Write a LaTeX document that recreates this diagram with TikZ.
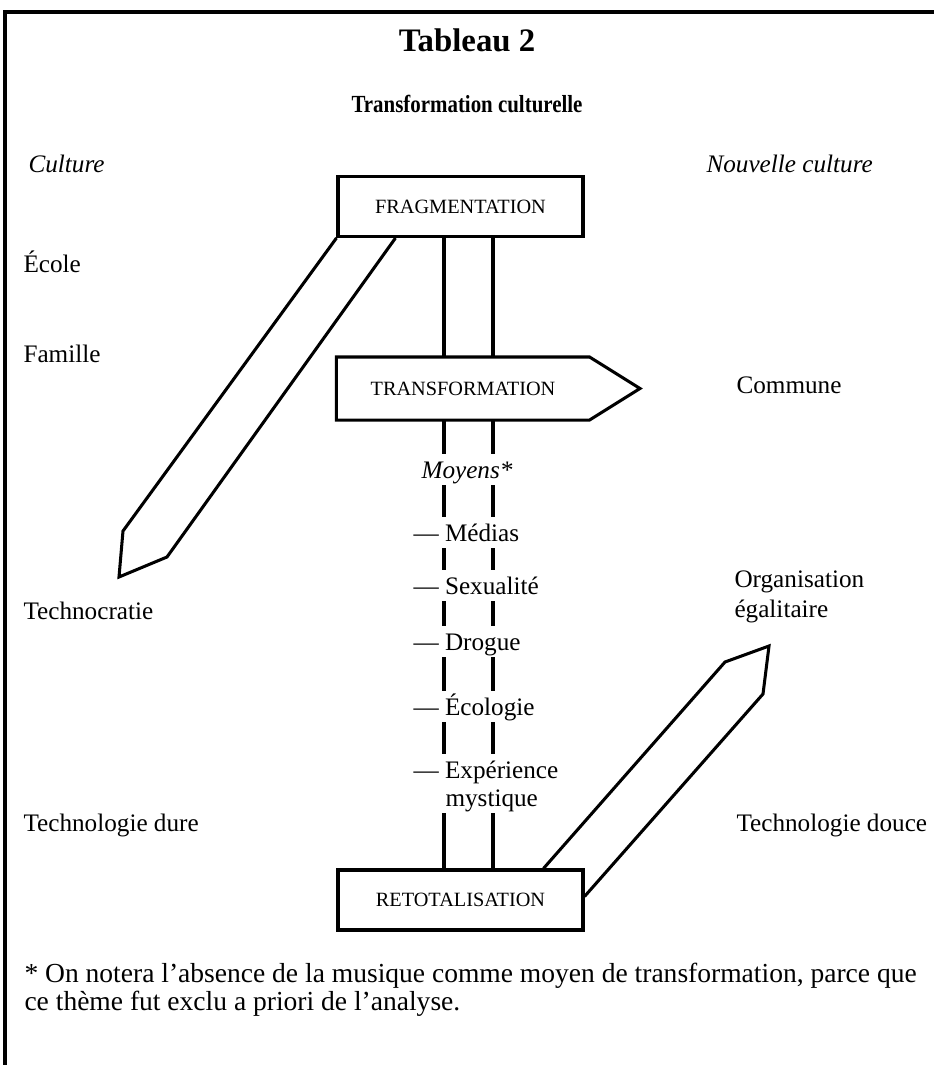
\documentclass[tikz,border=0pt]{standalone}
\usepackage{fontspec}
\setmainfont{Liberation Serif}
\usetikzlibrary{calc}

\begin{document}
\begin{tikzpicture}[x=0.03cm, y=-0.03cm, line width=2.6pt,
  box/.style = {draw, minimum width=7.35cm, minimum height=1.8cm, inner sep=0pt, font=\fontsize{17.3}{20}\selectfont},
  lab/.style = {anchor=base west, inner sep=0pt, font=\fontsize{21.5}{25}\selectfont},
  item/.style = {anchor=base west, inner xsep=0pt, inner ysep=5pt, text height=14.5pt, text depth=0pt, font=\fontsize{21.5}{25}\selectfont}]
  \useasboundingbox (0,0) rectangle (934,1065);
  \draw[line width=3.4pt] (5,1065) -- (5,12) -- (934,12);

  \node[anchor=base, font=\bfseries\fontsize{28}{32}\selectfont] at (467,52) (tab) {Tableau 2};
  \node[anchor=base, font=\bfseries\fontsize{21}{24}\selectfont] at (467,112) (titre) {\scalebox{0.85}[1]{Transformation culturelle}};

  \node[lab, font=\itshape\fontsize{21.5}{25}\selectfont] at (27,172) (cult) {Culture};
  \node[lab, font=\itshape\fontsize{21.5}{25}\selectfont] at (705,172) (nouv) {Nouvelle culture};
  \node[lab] at (22,272) (ecole) {École};
  \node[lab] at (22,362) (fam) {Famille};
  \node[lab] at (22,619) (techno) {Technocratie};
  \node[lab] at (22,831) (dure) {Technologie dure};
  \node[lab] at (735,393) (comm) {Commune};
  \node[lab] at (733,587) (org) {Organisation};
  \node[lab] at (733,617) (ega) {égalitaire};
  \node[lab] at (735,831) (douce) {Technologie douce};

  \node[box] at (460.5,206.5) (1) {FRAGMENTATION};
  \node[box, draw=none, minimum width=7.5cm] at (463,388.5) (2) {TRANSFORMATION};
  \coordinate (pointe) at (640,388.5);
  \draw (2.north east) -- (2.north west) -- (2.south west) -- (2.south east) -- (pointe) -- cycle;
  \node[box] at (460.5,900) (3) {RETOTALISATION};

  \node[item, anchor=base, font=\itshape\fontsize{21.5}{25}\selectfont] at (467,478) (moy) {Moyens*};
  \node[item] at (412,541) (med) {— Médias};
  \node[item] at (412,594) (sex) {— Sexualité};
  \node[item] at (412,650) (dro) {— Drogue};
  \node[item] at (412,715) (eco) {— Écologie};
  \node[item] at (412,778) (exp) {— Expérience};
  \node[item] at (444,806) (mys) {mystique};

  \coordinate (vl) at (444,0);
  \coordinate (vr) at (493,0);
  \foreach \a/\b in {1/2, 2/moy, moy/med, med/sex, sex/dro, dro/eco, eco/exp, mys/3}
    \draw (vl |- \a.south) -- (vl |- \b.north) (vr |- \a.south) -- (vr |- \b.north);

  \coordinate (gauche) at (119,577);
  \draw (1.south west) -- (123,531) -- (gauche) -- (167,557) -- ($(1.south west)+(59,0)$);
  \coordinate (droite) at (769,646);
  \draw ($(3.north west)+(207,0)$) -- (725,662) -- (droite) -- (763,694) -- ($(3.north east)+(0,28)$);

  \node[lab, font=\fontsize{23.5}{28}\selectfont] at (23,982) (n1) {* On notera l’absence de la musique comme moyen de transformation, parce que};
  \node[lab, font=\fontsize{23.5}{28}\selectfont] at (23,1010) (n2) {ce thème fut exclu a priori de l’analyse.};
\end{tikzpicture}
\end{document}
